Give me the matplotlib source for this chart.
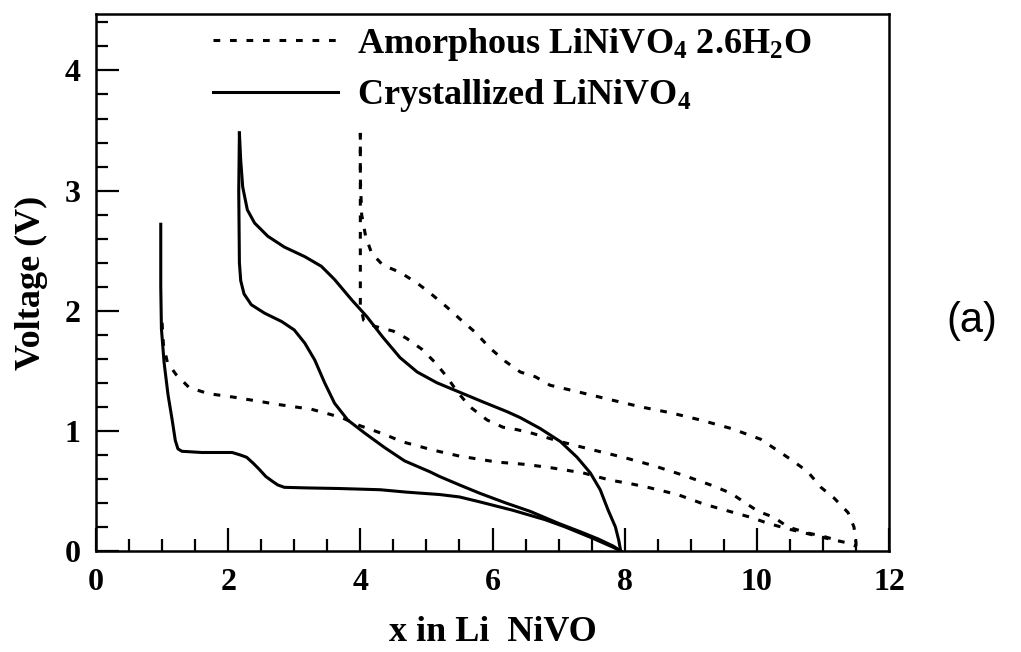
import numpy as np
import matplotlib
matplotlib.use("Agg")
import matplotlib.pyplot as plt
from matplotlib.ticker import MultipleLocator

# ---------------- data ----------------
# Crystallized LiNiVO4 : first discharge
cry_dis1_x = [0.98, 0.98, 0.99, 1.03, 1.09, 1.15, 1.20, 1.24, 1.30, 1.60, 2.06, 2.18, 2.28,
              2.38, 2.47, 2.57, 2.67, 2.75, 2.85, 3.20, 3.69, 4.30, 4.70, 5.20, 5.50, 5.80,
              6.30, 6.80, 7.10, 7.50, 7.83, 7.94]
cry_dis1_y = [2.72, 2.20, 1.85, 1.57, 1.30, 1.10, 0.92, 0.85, 0.83, 0.82, 0.82, 0.80, 0.78,
              0.73, 0.68, 0.62, 0.58, 0.55, 0.53, 0.525, 0.52, 0.51, 0.49, 0.47, 0.45, 0.41,
              0.34, 0.26, 0.20, 0.11, 0.03, 0.0]
# Crystallized LiNiVO4 : charge (upper branch)
cry_chg_x = [7.94, 7.91, 7.86, 7.75, 7.63, 7.48, 7.28, 7.03, 6.72, 6.42, 6.22, 5.86, 5.51,
             5.16, 4.86, 4.60, 4.34, 4.10, 3.87, 3.61, 3.41, 3.16, 2.85, 2.60, 2.40, 2.29,
             2.22, 2.19, 2.17]
cry_chg_y = [0.0, 0.09, 0.20, 0.34, 0.51, 0.65, 0.78, 0.91, 1.02, 1.11, 1.16, 1.24, 1.32,
             1.40, 1.49, 1.61, 1.78, 1.95, 2.09, 2.26, 2.37, 2.45, 2.53, 2.62, 2.73, 2.84,
             3.03, 3.25, 3.48]
# Crystallized LiNiVO4 : second discharge (lower branch)
cry_dis2_x = [2.17, 2.16, 2.17, 2.19, 2.24, 2.35, 2.55, 2.81, 3.00, 3.16, 3.31, 3.46, 3.61,
              3.81, 4.07, 4.37, 4.67, 5.05, 5.20, 5.50, 5.81, 6.20, 6.57, 7.00, 7.33, 7.60,
              7.83, 7.94]
cry_dis2_y = [3.48, 3.00, 2.40, 2.25, 2.14, 2.05, 1.98, 1.91, 1.84, 1.73, 1.59, 1.40, 1.23,
              1.09, 0.98, 0.86, 0.75, 0.66, 0.62, 0.55, 0.48, 0.40, 0.33, 0.23, 0.16, 0.10,
              0.04, 0.0]

# Amorphous LiNiVO4 2.6H2O : first discharge
amo_dis1_x = [1.00, 1.02, 1.08, 1.21, 1.41, 1.70, 2.09, 2.75, 3.26, 3.46, 3.72, 3.96, 4.37,
              4.63, 5.10, 5.50, 6.07, 6.52, 6.92, 7.37, 7.78, 8.09, 8.35, 8.80, 9.20, 9.65,
              9.91, 10.17, 10.50, 10.80, 11.10, 11.35, 11.50]
amo_dis1_y = [1.90, 1.72, 1.57, 1.47, 1.36, 1.31, 1.28, 1.22, 1.18, 1.15, 1.11, 1.05, 0.97,
              0.91, 0.84, 0.79, 0.74, 0.72, 0.69, 0.65, 0.59, 0.56, 0.53, 0.47, 0.39, 0.32,
              0.28, 0.23, 0.18, 0.14, 0.10, 0.07, 0.04]
# Amorphous : charge (upper branch)
amo_chg_x = [11.50, 11.50, 11.47, 11.38, 11.17, 10.97, 10.77, 10.52, 10.06, 9.61, 9.15,
             8.70, 8.24, 7.78, 7.33, 6.87, 6.65, 6.42, 6.19, 5.96, 5.74, 5.51, 5.31, 5.05,
             4.86, 4.60, 4.34, 4.17, 4.08, 4.02, 4.00, 4.00]
amo_chg_y = [0.04, 0.07, 0.20, 0.32, 0.44, 0.53, 0.66, 0.76, 0.93, 1.02, 1.09, 1.15, 1.20,
             1.26, 1.32, 1.38, 1.45, 1.49, 1.58, 1.69, 1.82, 1.93, 2.03, 2.15, 2.23, 2.32,
             2.38, 2.48, 2.62, 2.80, 3.10, 3.48]
# Amorphous : second discharge
amo_dis2_x = [4.00, 4.00, 4.00, 4.00, 4.05, 4.22, 4.50, 4.70, 4.93, 5.13, 5.31, 5.46, 5.66,
              5.92, 6.16, 6.37, 6.60, 7.03, 7.53, 7.98, 8.44, 8.89, 9.35, 9.61, 9.80, 10.02,
              10.26, 10.47, 10.77, 11.02, 11.27]
amo_dis2_y = [3.48, 3.00, 2.50, 2.05, 1.92, 1.87, 1.83, 1.77, 1.68, 1.57, 1.45, 1.33, 1.20,
              1.09, 1.03, 1.01, 0.98, 0.91, 0.84, 0.78, 0.71, 0.63, 0.54, 0.48, 0.41, 0.33,
              0.28, 0.20, 0.15, 0.12, 0.08]

label_amo = r"Amorphous LiNiVO$_4$ 2.6H$_2$O"
label_cry = r"Crystallized LiNiVO$_4$"
x_ticks = [0, 2, 4, 6, 8, 10, 12]
y_ticks = [0, 1, 2, 3, 4]

# ---------------- style ----------------
plt.rcParams['font.family'] = ['Liberation Serif', 'DejaVu Serif']
plt.rcParams['font.weight'] = 'bold'
plt.rcParams['mathtext.fontset'] = 'custom'
plt.rcParams['mathtext.rm'] = 'Liberation Serif:bold'
plt.rcParams['mathtext.it'] = 'Liberation Serif:bold'
plt.rcParams['mathtext.bf'] = 'Liberation Serif:bold'

fig = plt.figure(figsize=(10.21, 6.52), dpi=100)
W, H = 1021, 652
ax = fig.add_axes([96 / W, 1 - 551 / H, (889 - 96) / W, (551 - 14) / H])

lw = 2.2
dash = (0, (2.2, 3.2))
kw = dict(color='black', lw=lw, solid_joinstyle='round', dash_joinstyle='round')
ax.plot(amo_dis1_x, amo_dis1_y, linestyle=dash, label=label_amo, **kw)
ax.plot(amo_chg_x, amo_chg_y, linestyle=dash, **kw)
ax.plot(amo_dis2_x, amo_dis2_y, linestyle=dash, **kw)
ax.plot(cry_dis1_x, cry_dis1_y, label=label_cry, **kw)
ax.plot(cry_chg_x, cry_chg_y, **kw)
ax.plot(cry_dis2_x, cry_dis2_y, **kw)

ax.set_xlim(0, 12)
ax.set_ylim(0, 4.47)
ax.set_xticks(x_ticks)
ax.set_yticks(y_ticks)
ax.xaxis.set_minor_locator(MultipleLocator(0.5))
ax.yaxis.set_minor_locator(MultipleLocator(0.2))
ax.tick_params(which='both', direction='in', top=False, right=False, width=1.6,
               labelsize=23, colors='black')
ax.tick_params(which='major', length=16.5)
ax.tick_params(which='minor', length=8.5)
ax.tick_params(axis='x', pad=12)
ax.tick_params(axis='y', pad=11)
for lab in ax.get_xticklabels() + ax.get_yticklabels():
    lab.set_fontweight('bold')
for s in ax.spines.values():
    s.set_linewidth(1.8)

ax.set_xlabel("x in Li  NiVO", fontsize=26, fontweight='bold', labelpad=14)
ax.set_ylabel("Voltage (V)", fontsize=26, fontweight='bold', labelpad=12)

leg = ax.legend(loc='upper left', bbox_to_anchor=(0.1475, 0.978), frameon=False,
                fontsize=26, handlelength=3.45, handletextpad=0.55, labelspacing=0.4,
                borderpad=0, borderaxespad=0)

fig.text(972 / W, 1 - 321 / H, "(a)", fontsize=30, family='Liberation Sans',
         fontweight='normal', ha='center', va='center')

fig.savefig("out.png", dpi=100, facecolor='white')
